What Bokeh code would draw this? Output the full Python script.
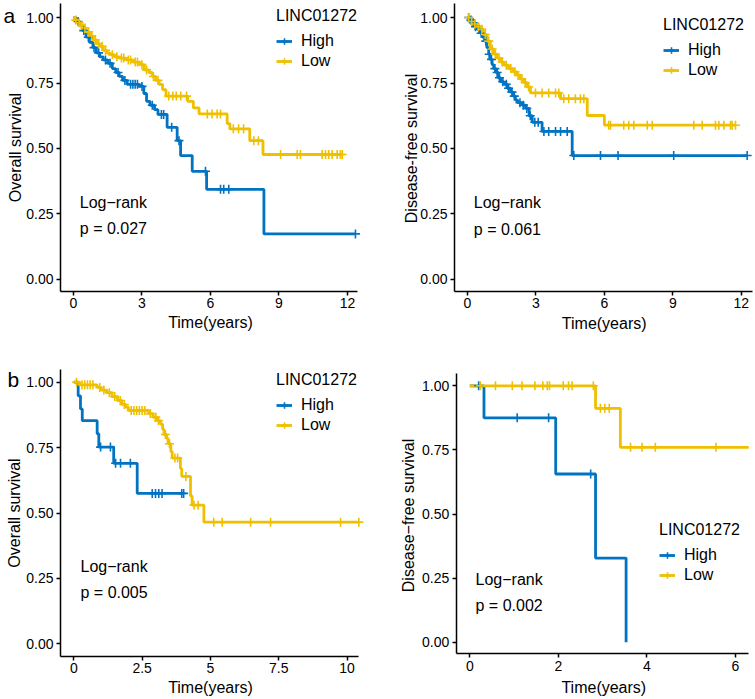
import numpy as np
from bokeh.plotting import figure
from bokeh.layouts import gridplot
from bokeh.models import Range1d, FixedTicker, NumeralTickFormatter, Legend, LegendItem, Label
from bokeh.embed import file_html
from bokeh.resources import INLINE

FONT = "Liberation Sans"
HIGH_COLOR = "#0073C2"
LOW_COLOR = "#EFC000"

group_names = ["High", "Low"]
legend_title = "LINC01272"
x_title = "Time(years)"

# ---------------- panel a (left): overall survival ----------------
os_a_high_time = [0.10, 0.25, 0.40, 0.55, 0.70, 0.85, 1.00, 1.15, 1.30, 1.50, 1.70, 1.85, 2.00, 2.15,
                  2.35, 2.85, 3.08, 3.20, 3.35, 3.55, 3.70, 4.10, 4.54, 4.69, 5.20, 5.83, 8.34]
os_a_high_surv = [0.985, 0.970, 0.950, 0.925, 0.905, 0.885, 0.865, 0.850, 0.838, 0.825, 0.805, 0.790,
                  0.775, 0.760, 0.745, 0.737, 0.710, 0.680, 0.665, 0.648, 0.630, 0.581, 0.530, 0.473,
                  0.413, 0.344, 0.174]
os_a_high_cens = [0.20, 0.45, 0.65, 0.90, 1.10, 1.40, 1.60, 1.95, 2.25, 2.50, 2.60, 2.70, 2.80, 3.00,
                  3.45, 3.85, 3.95, 4.30, 4.62, 5.78, 6.44, 6.58, 6.80, 12.35]
os_a_high_end = 12.35
os_a_low_time = [0.05, 0.15, 0.30, 0.40, 0.55, 0.70, 0.85, 1.00, 1.15, 1.30, 1.45, 1.60, 1.80, 2.00,
                 2.30, 2.60, 2.90, 3.10, 3.30, 3.45, 3.60, 3.75, 3.90, 4.05, 5.00, 5.25, 5.50, 6.73,
                 6.85, 7.72, 8.30]
os_a_low_surv = [0.990, 0.980, 0.970, 0.960, 0.945, 0.930, 0.915, 0.900, 0.890, 0.875, 0.865, 0.858,
                 0.850, 0.845, 0.838, 0.830, 0.820, 0.800, 0.790, 0.775, 0.760, 0.745, 0.725, 0.700,
                 0.680, 0.655, 0.632, 0.595, 0.575, 0.530, 0.477]
os_a_low_cens = [0.10, 0.25, 0.35, 0.50, 0.65, 0.80, 0.95, 1.10, 1.25, 1.40, 1.70, 1.90, 2.10, 2.20,
                 2.40, 2.50, 2.70, 2.80, 3.00, 3.20, 3.50, 3.70, 4.17, 4.35, 4.50, 4.70, 4.95, 5.86,
                 6.07, 6.29, 6.44, 7.00, 7.23, 7.45, 7.90, 8.10, 9.07, 9.80, 9.94, 10.89, 11.04, 11.18,
                 11.33, 11.55, 11.69, 11.77]
os_a_low_end = 11.77

# ---------------- panel a (right): disease-free survival ----------------
dfs_a_high_time = [0.10, 0.20, 0.30, 0.42, 0.55, 0.65, 0.75, 0.85, 0.93, 1.00, 1.08, 1.15, 1.25, 1.35,
                   1.45, 1.60, 1.75, 1.89, 2.00, 2.10, 2.20, 2.40, 2.55, 2.70, 2.84, 3.27, 4.59]
dfs_a_high_surv = [0.990, 0.980, 0.965, 0.955, 0.940, 0.925, 0.910, 0.885, 0.860, 0.840, 0.820, 0.805,
                   0.790, 0.770, 0.755, 0.745, 0.730, 0.715, 0.700, 0.685, 0.675, 0.665, 0.653, 0.625,
                   0.600, 0.565, 0.473]
dfs_a_high_cens = [0.05, 0.15, 0.25, 0.35, 0.50, 0.60, 0.80, 0.95, 1.05, 1.20, 1.30, 1.40, 1.55, 1.70,
                   1.80, 1.95, 2.05, 2.30, 2.45, 2.60, 2.75, 2.95, 3.10, 3.35, 3.56, 3.86, 4.08, 4.37,
                   4.66, 5.83, 6.60, 9.04, 12.26]
dfs_a_high_end = 12.26
dfs_a_low_time = [0.10, 0.25, 0.40, 0.57, 0.70, 0.86, 1.00, 1.15, 1.30, 1.45, 1.60, 1.80, 2.00, 2.15,
                  2.30, 2.47, 2.60, 2.76, 4.08, 5.25, 6.00]
dfs_a_low_surv = [0.985, 0.975, 0.965, 0.955, 0.935, 0.910, 0.880, 0.860, 0.845, 0.830, 0.818, 0.805,
                  0.793, 0.780, 0.765, 0.752, 0.735, 0.712, 0.690, 0.626, 0.589]
dfs_a_low_cens = [0.05, 0.18, 0.32, 0.48, 0.63, 0.78, 0.93, 1.08, 1.22, 1.38, 1.52, 1.70, 1.90, 2.08,
                  2.22, 2.38, 2.53, 2.68, 2.98, 3.27, 3.56, 3.86, 4.00, 4.22, 4.44, 4.73, 4.95, 5.10,
                  6.19, 6.27, 6.85, 7.07, 7.29, 7.88, 8.10, 9.92, 10.29, 10.87, 11.02, 11.24, 11.53,
                  11.60, 11.75]
dfs_a_low_end = 11.75

# ---------------- panel b (left): overall survival ----------------
os_b_high_time = [0.16, 0.245, 0.31, 0.855, 0.915, 1.46, 2.32]
os_b_high_surv = [0.948, 0.898, 0.853, 0.803, 0.752, 0.690, 0.575]
os_b_high_cens = [0.98, 1.34, 1.53, 1.71, 2.07, 2.87, 2.99, 3.11, 3.23, 3.95, 4.02]
os_b_high_end = 4.02
os_b_low_time = [0.20, 0.85, 1.00, 1.20, 1.40, 1.60, 1.75, 1.90, 2.00, 2.74, 2.90, 3.05, 3.17, 3.25,
                 3.30, 3.40, 3.45, 3.55, 3.60, 3.90, 3.95, 4.27, 4.33, 4.76]
os_b_low_surv = [0.990, 0.980, 0.970, 0.960, 0.945, 0.930, 0.915, 0.905, 0.892, 0.880, 0.866, 0.853,
                 0.840, 0.820, 0.800, 0.785, 0.765, 0.735, 0.710, 0.670, 0.640, 0.565, 0.530, 0.465]
os_b_low_cens = [0.10, 0.30, 0.40, 0.50, 0.60, 0.70, 0.95, 1.10, 1.30, 1.50, 1.70, 1.85, 2.10, 2.20,
                 2.30, 2.40, 2.50, 2.60, 2.80, 3.00, 3.10, 3.35, 3.50, 3.70, 3.80, 4.10, 4.40, 4.55,
                 5.12, 5.43, 6.47, 7.20, 9.76, 10.43]
os_b_low_end = 10.43

# ---------------- panel b (right): disease-free survival ----------------
dfs_b_high_time = [0.32, 1.94, 2.84, 3.53]
dfs_b_high_surv = [0.875, 0.656, 0.328, 0.000]
dfs_b_high_cens = [0.20, 1.07, 1.78, 2.73]
dfs_b_high_end = 3.53
dfs_b_low_time = [2.84, 3.40]
dfs_b_low_surv = [0.912, 0.760]
dfs_b_low_cens = [0.24, 0.58, 0.96, 1.18, 1.47, 1.65, 1.75, 1.80, 2.11, 2.23, 2.31, 2.79, 2.95, 3.05,
                  3.15, 3.63, 3.89, 4.19, 5.56]
dfs_b_low_end = 6.30

# ---------------- axis ticks ----------------
y_ticks = [0.0, 0.25, 0.5, 0.75, 1.0]
x_ticks_a = [0, 3, 6, 9, 12]
x_labels_a = ["0", "3", "6", "9", "12"]
x_ticks_b_os = [0, 2.5, 5, 7.5, 10]
x_labels_b_os = ["0", "2.5", "5", "7.5", "10"]
x_ticks_b_dfs = [0, 2, 4, 6]
x_labels_b_dfs = ["0", "2", "4", "6"]

# ---------------- statistics text ----------------
logrank_text = "Log\u2212rank"
p_values = ["p = 0.027", "p = 0.061", "p = 0.005", "p = 0.002"]


def km_path(times, surv, end):
    xs = [0.0] + list(times) + [end]
    ys = [1.0] + list(surv) + [surv[-1]]
    return xs, ys


def surv_at(times, surv, t):
    s = np.concatenate([[1.0], np.asarray(surv, dtype=float)])
    idx = np.searchsorted(np.asarray(times, dtype=float), np.asarray(t, dtype=float), side="right")
    return s[idx]


def txt(**kw):
    base = dict(text_font=FONT, text_font_size="16px", text_color="black")
    base.update(kw)
    return Label(**base)


def make_panel(cfg):
    p = figure(width=cfg["w"], height=cfg["h"],
               x_range=Range1d(*cfg["xr"]), y_range=Range1d(*cfg["yr"]),
               output_backend="svg", toolbar_location=None,
               min_border_left=0, min_border_right=0, min_border_top=0, min_border_bottom=0)
    p.xgrid.visible = False
    p.ygrid.visible = False
    p.outline_line_color = None
    p.background_fill_color = "white"
    p.border_fill_color = "white"

    for ax in (p.xaxis[0], p.yaxis[0]):
        ax.axis_line_color = "black"
        ax.axis_line_width = 1.5
        ax.major_tick_line_color = "black"
        ax.major_tick_line_width = 1.5
        ax.major_tick_out = 4
        ax.major_tick_in = 0
        ax.minor_tick_line_color = None
        ax.major_label_text_font = FONT
        ax.major_label_text_font_size = "14px"
        ax.major_label_text_color = "black"
        ax.major_label_standoff = 3

    p.xaxis.ticker = FixedTicker(ticks=cfg["xticks"])
    p.xaxis.major_label_overrides = {float(t): l for t, l in zip(cfg["xticks"], cfg["xlabels"])}
    p.xaxis.fixed_location = cfg["ybounds"][0]
    p.xaxis.bounds = cfg["xbounds"]

    p.yaxis.ticker = FixedTicker(ticks=y_ticks)
    p.yaxis.formatter = NumeralTickFormatter(format="0.00")
    p.yaxis.fixed_location = cfg["xbounds"][0]
    p.yaxis.bounds = cfg["ybounds"]

    lines = []
    for (t, s, end, _c), color in zip(cfg["curves"], [HIGH_COLOR, LOW_COLOR]):
        xs, ys = km_path(t, s, end)
        lines.append(p.step(xs, ys, mode="after", line_width=2.8, line_color=color))
    marks = []
    for (t, s, end, c), color in zip(cfg["curves"], [HIGH_COLOR, LOW_COLOR]):
        marks.append(p.scatter(c, surv_at(t, s, c), marker="cross", size=9,
                               line_width=1.6, line_color=color))

    legend = Legend(items=[LegendItem(label=group_names[i], renderers=[lines[i], marks[i]]) for i in range(2)],
                    title=legend_title, location=cfg["legend_loc"],
                    title_text_font=FONT, title_text_font_size="16px", title_text_font_style="normal",
                    title_text_color="black", title_standoff=6,
                    label_text_font=FONT, label_text_font_size="16px", label_text_color="black",
                    glyph_width=16, glyph_height=20, label_height=20, label_standoff=9,
                    spacing=0, padding=0, margin=0,
                    border_line_color=None, background_fill_alpha=0)
    p.add_layout(legend)

    lx, ly1, ly2 = cfg["stat_pos"]
    p.add_layout(txt(x=lx, y=ly1, text=logrank_text, text_baseline="middle"))
    p.add_layout(txt(x=lx, y=ly2, text=cfg["pval"], text_baseline="middle"))

    tx, ty = cfg["xtitle_pos"]
    p.add_layout(txt(x=tx, y=ty, x_units="screen", y_units="screen", text=x_title,
                     text_align="center", text_baseline="middle"))
    vx, vy = cfg["ytitle_pos"]
    p.add_layout(txt(x=vx, y=vy, x_units="screen", y_units="screen", text=cfg["ylabel"],
                     angle=90, angle_units="deg", text_align="center", text_baseline="middle"))
    if cfg.get("letter"):
        lx2, ly3 = cfg["letter_pos"]
        p.add_layout(txt(x=lx2, y=ly3, x_units="screen", y_units="screen", text=cfg["letter"],
                         text_baseline="alphabetic", text_font_size="21px"))
    return p


panels = [
    dict(w=375, h=336, xr=(-3.198, 13.228), yr=(-0.2176, 1.0649),
         xbounds=(-0.569, 12.44), ybounds=(-0.0458, 1.0534),
         xticks=x_ticks_a, xlabels=x_labels_a, ylabel="Overall survival",
         curves=[(os_a_high_time, os_a_high_surv, os_a_high_end, os_a_high_cens),
                 (os_a_low_time, os_a_low_surv, os_a_low_end, os_a_low_cens)],
         legend_loc=(276, 265), stat_pos=(0.276, 0.295, 0.194), pval=p_values[0],
         xtitle_pos=(210, 14), ytitle_pos=(15, 189),
         letter="a", letter_pos=(3, 321)),
    dict(w=379, h=336, xr=(-4.033, 12.582), yr=(-0.2176, 1.0649),
         xbounds=(-0.570, 12.48), ybounds=(-0.0458, 1.0534),
         xticks=x_ticks_a, xlabels=x_labels_a, ylabel="Disease-free survival",
         curves=[(dfs_a_high_time, dfs_a_high_surv, dfs_a_high_end, dfs_a_high_cens),
                 (dfs_a_low_time, dfs_a_low_surv, dfs_a_low_end, dfs_a_low_cens)],
         legend_loc=(288, 256), stat_pos=(0.276, 0.295, 0.19), pval=p_values[1],
         xtitle_pos=(228.7, 13), ytitle_pos=(36, 188)),
    dict(w=375, h=362, xr=(-2.682, 11.039), yr=(-0.2091, 1.1747),
         xbounds=(-0.487, 10.417), ybounds=(-0.0474, 1.0486),
         xticks=x_ticks_b_os, xlabels=x_labels_b_os, ylabel="Overall survival",
         curves=[(os_b_high_time, os_b_high_surv, os_b_high_end, os_b_high_cens),
                 (os_b_low_time, os_b_low_surv, os_b_low_end, os_b_low_cens)],
         legend_loc=(276, 263), stat_pos=(0.245, 0.295, 0.197), pval=p_values[2],
         xtitle_pos=(210, 11.3), ytitle_pos=(13.5, 185.5),
         letter="b", letter_pos=(7, 319)),
    dict(w=379, h=362, xr=(-2.130, 6.430), yr=(-0.2196, 1.1923),
         xbounds=(-0.307, 6.30), ybounds=(-0.0452, 1.048),
         xticks=x_ticks_b_dfs, xlabels=x_labels_b_dfs, ylabel="Disease\u2212free survival",
         curves=[(dfs_b_high_time, dfs_b_high_surv, dfs_b_high_end, dfs_b_high_cens),
                 (dfs_b_low_time, dfs_b_low_surv, dfs_b_low_end, dfs_b_low_cens)],
         legend_loc=(284, 113), stat_pos=(0.129, 0.243, 0.143), pval=p_values[3],
         xtitle_pos=(228.3, 11.3), ytitle_pos=(33.3, 183)),
]

figs = [make_panel(c) for c in panels]
grid = gridplot([[figs[0], figs[1]], [figs[2], figs[3]]], toolbar_location=None)

open("out.html", "w").write(file_html(grid, INLINE))
